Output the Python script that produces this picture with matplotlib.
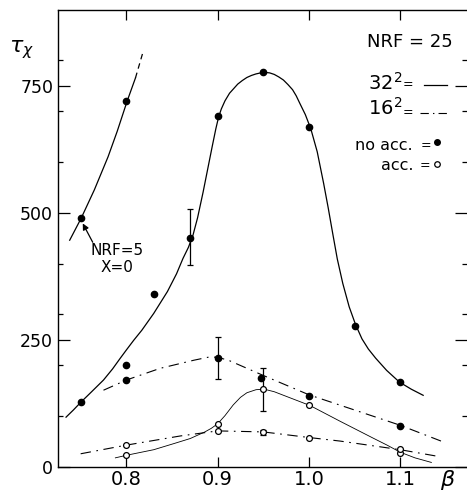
import matplotlib.pyplot as plt
from matplotlib.lines import Line2D
from matplotlib.ticker import FixedLocator

plt.rcParams['font.family'] = 'DejaVu Sans'
plt.rcParams['mathtext.fontset'] = 'dejavusans'
plt.rcParams['lines.scale_dashes'] = False

# ---- data ----
# 32^2, no acceleration (filled points, solid line)
beta_32_noacc = [0.75, 0.80, 0.83, 0.87, 0.90, 0.95, 1.00, 1.05, 1.10]
tau_32_noacc = [127, 200, 341, 450, 690, 776, 669, 278, 167]
curve_32_noacc_b = [0.734, 0.742, 0.750, 0.762, 0.775, 0.785, 0.793, 0.800, 0.808,
                    0.817, 0.830, 0.845, 0.855, 0.862, 0.868, 0.873, 0.878, 0.884,
                    0.889, 0.894, 0.898, 0.901, 0.904, 0.908, 0.913, 0.918, 0.922,
                    0.927, 0.932, 0.937, 0.942, 0.947, 0.952, 0.957, 0.962, 0.967,
                    0.972, 0.977, 0.982, 0.986, 0.990, 0.996, 1.002, 1.009, 1.016,
                    1.021, 1.026, 1.031, 1.037, 1.044, 1.051, 1.058, 1.065, 1.073,
                    1.085, 1.099, 1.112, 1.125]
curve_32_noacc_t = [98, 112, 127, 148, 171, 193, 213, 230, 249,
                    269, 302, 345, 380, 410, 432, 456, 490, 540,
                    585, 630, 665, 688, 704, 720, 735, 745, 753,
                    760, 766, 770, 773, 775, 776, 775, 772, 767,
                    761, 752, 742, 730, 715, 693, 665, 620, 558,
                    510, 459, 409, 361, 315, 280, 252, 232, 214,
                    190, 167, 153, 141]

# 16^2, no acceleration (filled points, dash-dot line)
beta_16_noacc = [0.80, 0.90, 0.948, 1.00, 1.10]
tau_16_noacc = [171, 215, 176, 140, 80]
curve_16_noacc_b = [0.775, 0.800, 0.837, 0.874, 0.890, 0.900, 0.913, 0.950, 1.000,
                    1.050, 1.100, 1.146]
curve_16_noacc_t = [151, 171, 194, 210, 216, 216, 209, 180, 142, 112, 82, 50]

# 32^2, acceleration (open points, thin solid line)
beta_32_acc = [0.80, 0.90, 0.95, 1.00, 1.10]
tau_32_acc = [23, 85, 153, 121, 27]
curve_32_acc_b = [0.788, 0.800, 0.830, 0.852, 0.870, 0.886, 0.893, 0.900, 0.908,
                  0.917, 0.925, 0.932, 0.942, 0.951, 0.962, 0.975, 1.001, 1.034,
                  1.070, 1.0855, 1.100, 1.116, 1.134]
curve_32_acc_t = [18, 23, 34, 46, 56, 69, 76, 85, 101,
                  122, 137, 146, 152, 153, 148, 139, 121, 90,
                  57, 43, 29, 18, 9]

# 16^2, acceleration (open points, dash-dot line)
beta_16_acc = [0.80, 0.90, 0.95, 1.00, 1.10]
tau_16_acc = [43, 71, 68, 58, 36]
curve_16_acc_b = [0.750, 0.800, 0.859, 0.900, 0.950, 1.000, 1.034, 1.100, 1.141]
curve_16_acc_t = [26, 43, 61, 71, 69, 58, 51, 34, 21]

# NRF = 5, X = 0
beta_nrf5 = [0.75, 0.80]
tau_nrf5 = [489, 720]
curve_nrf5_b = [0.738, 0.7505, 0.765, 0.780, 0.790, 0.801, 0.810]
curve_nrf5_t = [446, 489, 545, 610, 660, 720, 765]
curve_nrf5_ext_b = [0.810, 0.8189]
curve_nrf5_ext_t = [765, 820]

# error bars
err_b = [0.87, 0.90, 0.95, 0.95]
err_t = [450, 215, 153, 68]
err_lo = [53, 41, 43, 5]
err_hi = [58, 41, 42, 5]

W, H = 467, 491


def px(x, y):
    return x / W, 1 - y / H


fig = plt.figure(figsize=(W / 100, H / 100), dpi=100)
ax = fig.add_axes([58 / W, 24 / H, 409 / W, 457 / H])

dashdot = (0, (7.5, 4, 1.2, 4))

ax.plot(curve_32_noacc_b, curve_32_noacc_t, color='k', lw=0.9)
ax.plot(beta_32_noacc, tau_32_noacc, 'o', color='k', ms=4.5)

ax.plot(curve_16_noacc_b, curve_16_noacc_t, color='k', lw=0.8, linestyle=dashdot)
ax.plot(beta_16_noacc, tau_16_noacc, 'o', color='k', ms=4.5)

ax.plot(curve_32_acc_b, curve_32_acc_t, color='k', lw=0.6)
ax.plot(curve_16_acc_b, curve_16_acc_t, color='k', lw=0.8, linestyle=dashdot)

ax.errorbar(err_b, err_t, yerr=[err_lo, err_hi], fmt='none', ecolor='k',
            elinewidth=0.9, capsize=2.5, capthick=0.9)

ax.plot(beta_32_acc, tau_32_acc, 'o', mfc='white', mec='k', mew=0.9, ms=4.2)
ax.plot(beta_16_acc, tau_16_acc, 'o', mfc='white', mec='k', mew=0.9, ms=4.2)

ax.plot(curve_nrf5_b, curve_nrf5_t, color='k', lw=0.9)
ax.plot(curve_nrf5_ext_b, curve_nrf5_ext_t, color='k', lw=0.9, linestyle=(0, (4, 3)))
ax.plot(beta_nrf5, tau_nrf5, 'o', color='k', ms=4.5)

ax.annotate('', xy=(0.7523, 479), xytext=(0.7632, 442),
            arrowprops=dict(arrowstyle='-|>', color='k', lw=0.9,
                            mutation_scale=9, shrinkA=0, shrinkB=0))
ax.text(0.7898, 409, 'NRF=5\nX=0', fontsize=11, ha='center', va='center',
        linespacing=1.1)

ax.set_xlim(0.7252, 1.1730)
ax.set_ylim(0, 898.7)

ax.xaxis.set_major_locator(FixedLocator([0.8, 0.9, 1.0, 1.1]))
ax.set_xticklabels(['0.8', '0.9', '1.0', '1.1'])
ax.yaxis.set_major_locator(FixedLocator([0, 250, 500, 750]))
ax.yaxis.set_minor_locator(FixedLocator([100, 200, 300, 400, 600, 700, 800]))

ax.tick_params(axis='x', which='major', direction='in', length=7.2, width=0.9,
               top=True, bottom=True, labelsize=14, pad=2)
ax.tick_params(axis='y', which='major', direction='in', length=8.6, width=0.9,
               left=True, right=True, labelsize=12.5, pad=3.5)
ax.tick_params(axis='y', which='minor', direction='in', length=3.6, width=0.9,
               left=True, right=True)

ax.spines['right'].set_visible(False)
for s in ['left', 'bottom', 'top']:
    ax.spines[s].set_linewidth(1.0)

# axis labels
fig.text(*px(9, 52), r'$\tau_\chi$', fontsize=16, ha='left', va='baseline')
fig.text(*px(448, 486), r'$\beta$', fontsize=16, ha='center', va='baseline')

# key in the upper right
fig.text(*px(453, 47), 'NRF = 25', fontsize=13, ha='right', va='baseline')

fig.text(*px(402, 90), r'32$^2$', fontsize=14, ha='right', va='baseline')
fig.text(*px(408, 88), '=', fontsize=9, ha='center', va='baseline')
fig.add_artist(Line2D([424 / W, 447 / W], [1 - 85 / H] * 2, color='k', lw=0.9))

fig.text(*px(402, 115), r'16$^2$', fontsize=14, ha='right', va='baseline')
fig.text(*px(408, 116), '=', fontsize=9, ha='center', va='baseline')
fig.add_artist(Line2D([420 / W, 447 / W], [1 - 113 / H] * 2, color='k', lw=0.8,
                      linestyle=(0, (6, 3, 1, 3))))

fig.text(*px(413, 150), 'no acc.', fontsize=11.5, ha='right', va='baseline')
fig.text(*px(426, 149), '=', fontsize=9, ha='center', va='baseline')
fig.add_artist(Line2D([437 / W], [1 - 142 / H], marker='o', color='k', ms=4, lw=0))

fig.text(*px(413, 170), 'acc.', fontsize=11.5, ha='right', va='baseline')
fig.text(*px(425, 169), '=', fontsize=9, ha='center', va='baseline')
fig.add_artist(Line2D([437 / W], [1 - 164 / H], marker='o', mfc='white', mec='k',
                      mew=0.9, ms=4, lw=0))

fig.savefig('out.png', dpi=100)
